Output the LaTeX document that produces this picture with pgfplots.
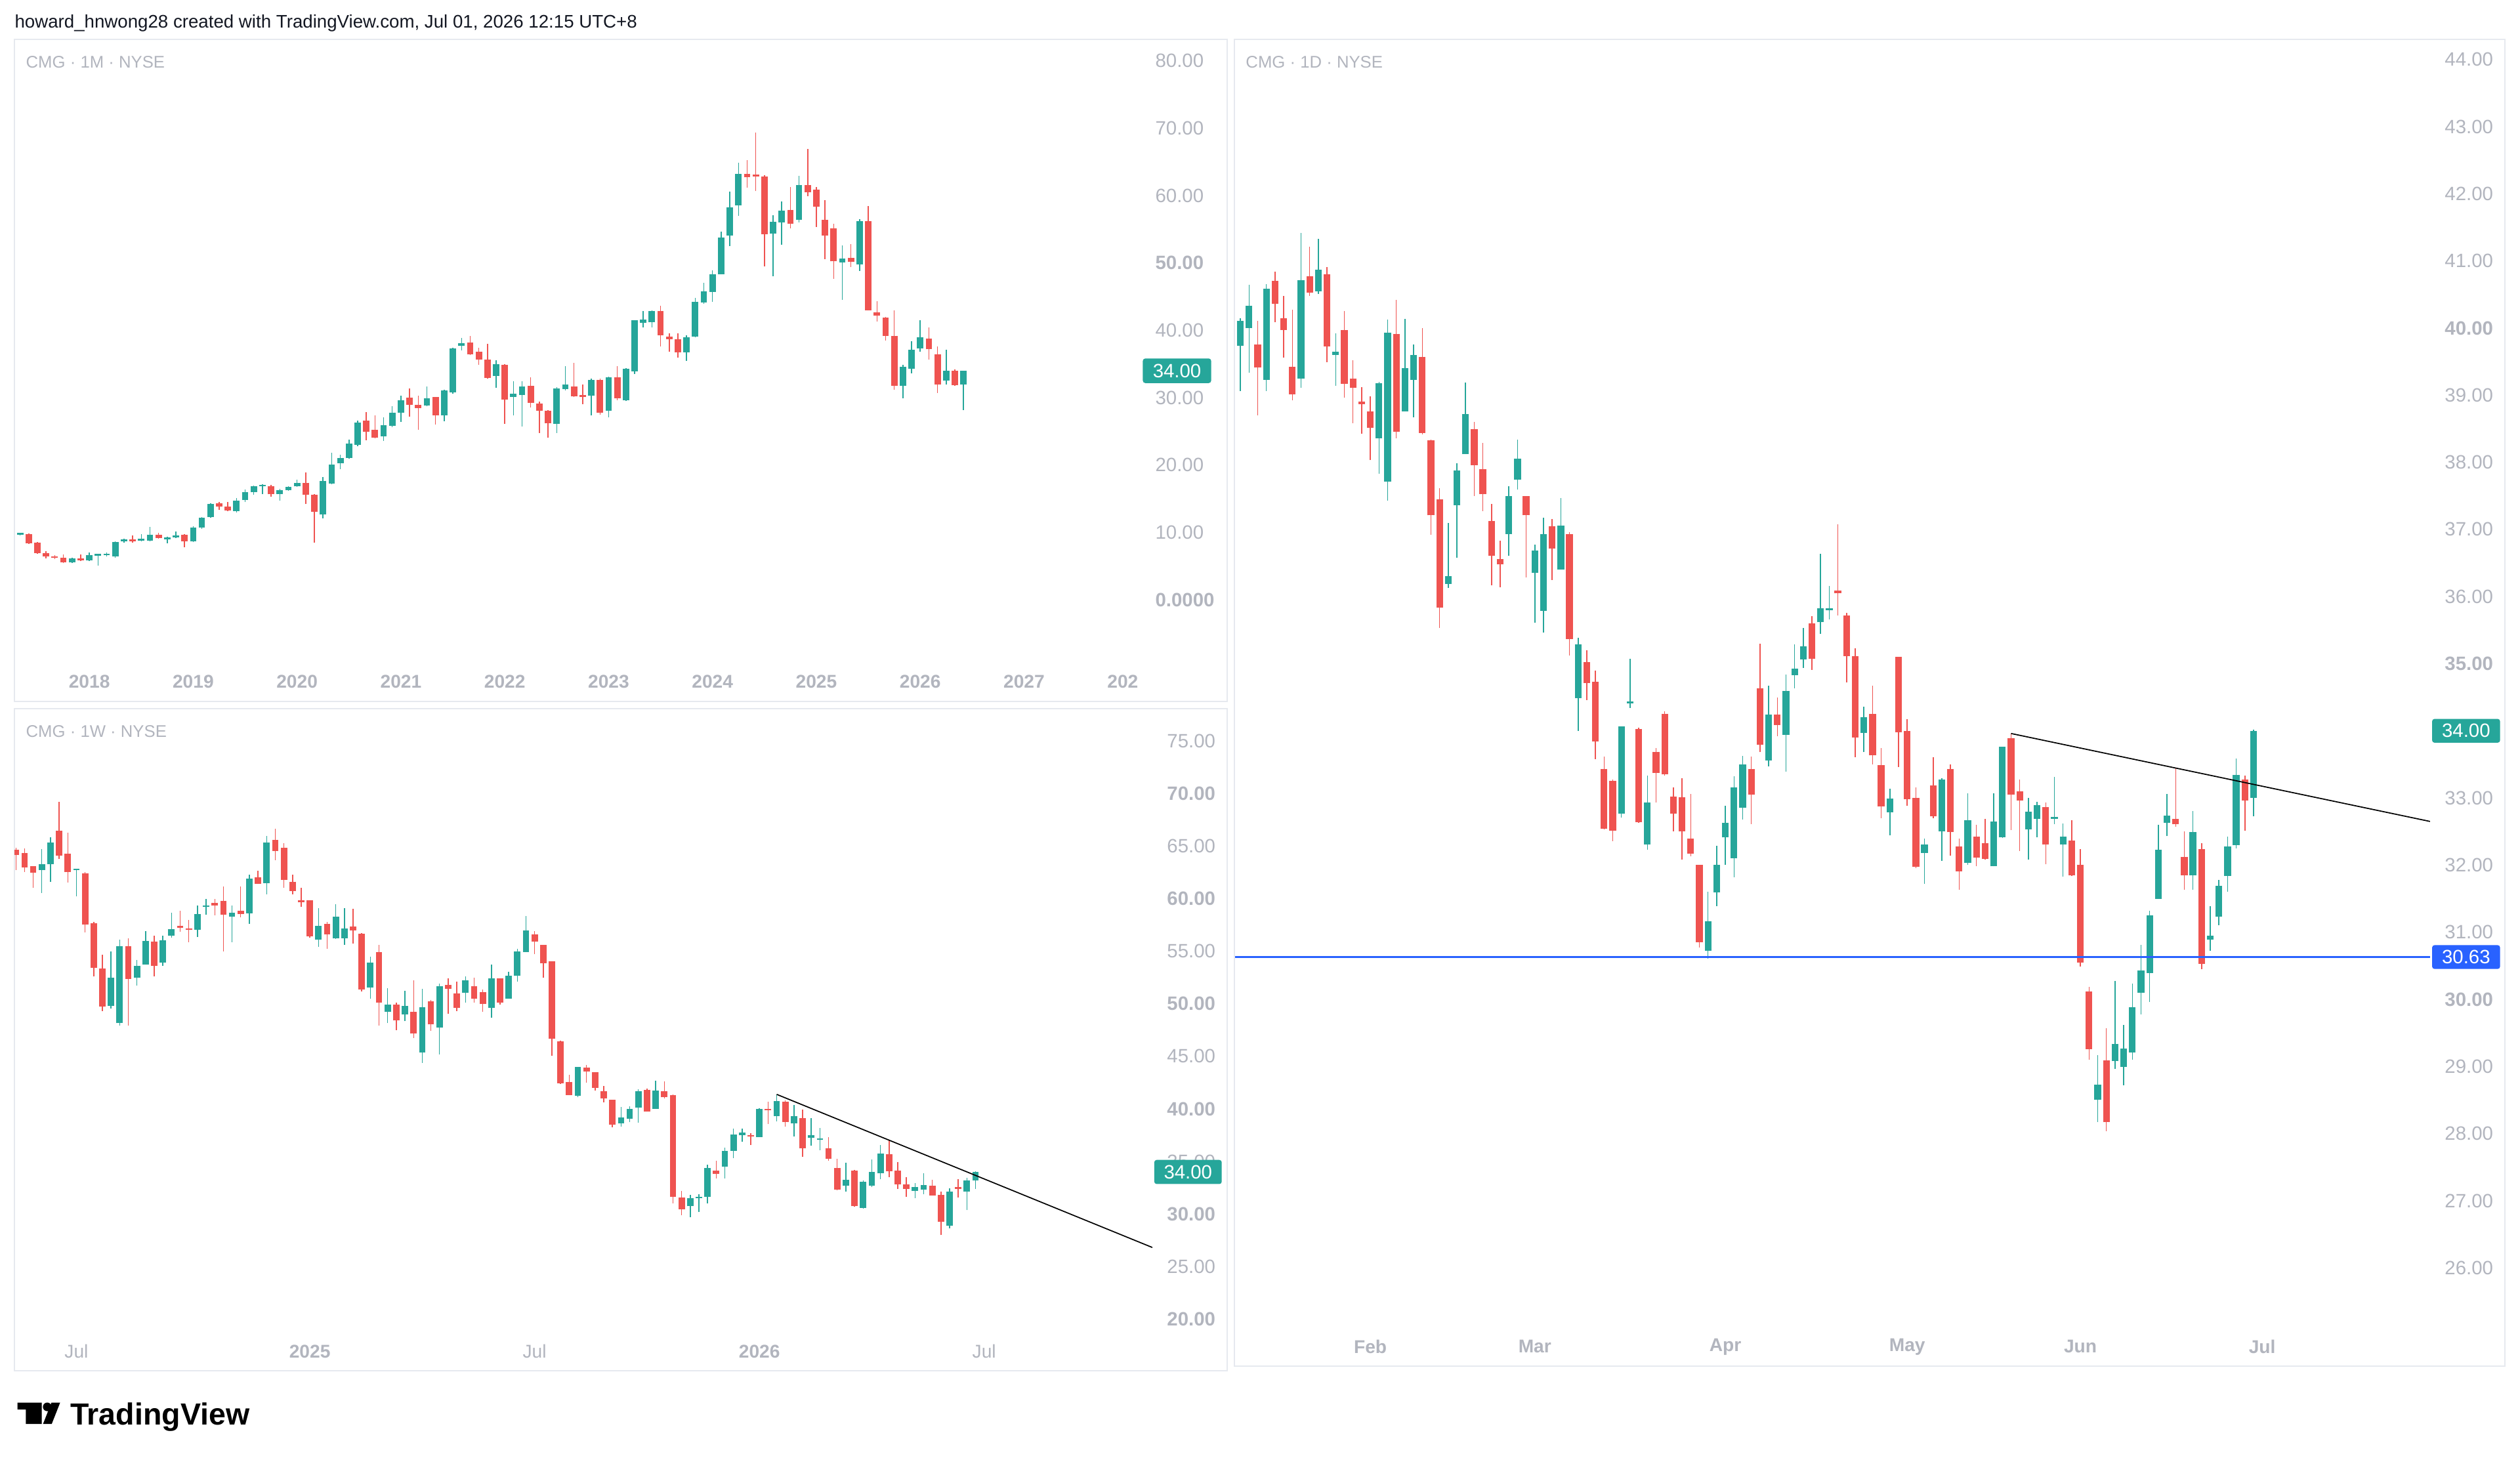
\documentclass[border=0pt]{standalone}
\usepackage{fontspec}
\setmainfont{Liberation Sans}
\usepackage{pgfplots}
\pgfplotsset{compat=1.18}
\usepackage{pgfplotstable}

\definecolor{tvgreen}{HTML}{26A69A}
\definecolor{tvred}{HTML}{EF5350}
\definecolor{tvgray}{HTML}{B2B5BE}
\definecolor{tvblue}{HTML}{2962FF}
\definecolor{tvborder}{HTML}{E6E9EF}
\definecolor{tvtext}{HTML}{131722}

\pgfplotstableread{
i o h l c
1 9.7 10.0 9.6 9.8
2 9.77 9.86 8.33 8.37
3 8.47 8.56 6.88 6.98
4 6.98 7.2 6.14 6.42
5 6.47 6.65 6.05 6.23
6 6.23 6.74 5.44 5.53
7 5.53 6.23 5.44 6.14
8 6.1 6.74 5.8 5.9
9 5.9 7.07 5.8 6.6
10 6.55 6.65 5.1 6.6
11 6.6 7.0 6.4 6.7
12 6.47 8.7 6.3 8.6
13 8.7 9.07 8.47 8.8
14 8.8 9.6 8.47 8.7
15 8.8 9.77 8.65 8.93
16 8.8 10.8 8.7 9.63
17 9.63 10.0 9.07 9.16
18 9.0 9.4 8.4 9.3
19 9.3 10.1 9.16 9.6
20 9.7 9.77 7.8 8.7
21 8.65 10.93 8.56 10.7
22 10.7 12.3 10.5 12.23
23 12.28 14.3 12.2 14.28
24 14.33 14.5 13.35 13.86
25 13.86 14.56 13.2 13.3
26 13.2 15.07 12.93 14.7
27 14.84 16.37 14.5 15.95
28 15.95 17.0 15.6 16.84
29 16.84 17.2 15.7 16.93
30 16.9 17.1 15.35 15.7
31 15.7 16.5 14.74 16.33
32 16.33 16.84 16.2 16.74
33 16.84 17.86 16.74 17.4
34 17.4 18.9 14.23 15.6
35 15.6 15.7 8.47 13.1
36 12.65 18.2 12.1 17.6
37 17.3 21.86 17.2 20.1
38 20.28 21.5 19.44 21.07
39 21.1 23.8 21.0 23.16
40 23.0 26.6 22.8 26.28
41 26.56 27.9 23.7 24.98
42 25.2 27.4 23.95 24.1
43 24.28 27.07 23.6 25.9
44 25.8 28.74 25.67 27.8
45 27.77 30.3 26.4 29.67
46 30.0 31.4 27.2 28.98
47 28.98 30.3 25.26 28.47
48 28.84 31.7 28.7 29.9
49 30.1 30.1 26.0 27.4
50 27.4 31.16 26.5 31.07
51 30.84 37.44 30.6 37.35
52 37.67 38.84 37.0 38.1
53 38.2 39.2 36.3 36.4
54 36.8 37.44 34.93 35.7
55 35.7 38.0 32.84 32.93
56 33.26 35.6 31.5 35.0
57 34.88 34.98 26.14 29.77
58 30.14 32.4 27.35 30.56
59 30.42 32.4 25.7 31.7
60 31.77 33.0 28.6 29.2
61 29.16 29.4 24.74 28.1
62 28.1 28.2 24.05 26.2
63 26.14 31.6 24.8 31.4
64 31.26 34.65 31.07 32.0
65 31.7 35.2 30.1 30.2
66 30.4 31.95 29.07 30.1
67 30.33 32.8 27.35 32.65
68 32.65 32.8 27.53 27.77
69 28.1 33.1 27.07 33.0
70 33.0 34.65 29.67 29.9
71 29.63 34.42 29.5 34.28
72 33.95 41.5 33.5 41.5
73 41.16 42.9 40.47 41.63
74 41.26 43.0 40.47 42.9
75 42.9 43.6 37.6 39.3
76 39.07 39.6 36.84 38.7
77 38.7 39.6 36.0 36.74
78 36.74 39.26 35.44 38.98
79 39.07 44.84 38.93 44.2
80 44.1 47.07 43.95 45.8
81 45.67 48.93 44.2 48.28
82 48.37 54.65 48.28 53.8
83 54.1 60.6 52.47 58.23
84 58.5 64.9 57.0 63.26
85 63.2 65.3 61.2 62.7
86 62.93 69.4 60.65 62.84
87 62.8 63.0 49.5 54.3
88 54.33 57.07 48.05 56.14
89 56.05 59.16 52.74 57.77
90 57.86 61.3 55.1 55.86
91 56.37 62.9 56.05 61.6
92 61.6 66.9 59.9 60.47
93 60.84 61.26 55.35 58.37
94 56.42 59.3 50.6 54.1
95 55.1 55.8 47.67 50.23
96 50.1 52.65 44.56 50.65
97 50.8 52.8 49.44 50.14
98 49.77 56.5 48.84 56.23
99 56.23 58.47 42.93 42.98
100 42.7 44.33 41.3 42.23
101 41.86 41.95 38.47 39.2
102 39.2 42.98 31.16 31.77
103 31.72 34.9 29.9 34.56
104 34.33 38.37 33.6 37.1
105 37.3 41.5 36.84 38.93
106 38.8 40.47 35.67 37.2
107 36.42 37.6 30.7 32.0
108 32.5 37.1 32.0 34.05
109 34.05 34.23 31.77 31.86
110 32.0 34.05 28.14 34.0
}\monthly

\pgfplotstableread{
i o h l c
1 64.64 64.8 62.7 64.16
2 64.33 64.78 62.55 62.97
3 63.1 63.1 61.0 62.49
4 62.72 64.72 60.54 63.3
5 63.27 65.83 61.57 65.36
6 66.45 69.23 63.75 64.11
7 64.25 66.25 61.52 62.55
8 62.7 62.85 60.2 62.73
9 62.41 62.55 56.78 57.56
10 57.67 57.8 52.58 53.44
11 53.36 54.64 49.32 49.73
12 49.82 54.97 49.54 52.46
13 48.15 56.08 47.92 55.47
14 55.5 56.22 47.95 52.38
15 52.46 54.19 51.71 53.61
16 53.75 56.89 53.75 56.0
17 55.92 56.5 52.6 53.58
18 53.94 56.5 53.63 56.06
19 56.5 58.68 56.31 57.12
20 57.37 58.87 56.84 57.23
21 57.1 57.98 55.86 57.03
22 57.03 59.34 56.36 58.54
23 59.2 59.99 58.45 59.3
24 59.62 59.99 58.4 59.34
25 59.76 61.15 54.97 58.48
26 58.31 59.34 55.86 58.68
27 58.87 61.18 58.23 58.54
28 58.59 62.3 57.62 61.91
29 62.02 62.63 61.38 61.43
30 61.49 65.97 60.4 65.33
31 65.56 66.61 63.66 64.53
32 64.8 65.28 61.04 61.8
33 61.57 62.3 60.43 60.71
34 59.87 61.04 59.2 59.65
35 59.82 59.87 56.3 56.4
36 56.08 59.07 55.39 57.42
37 57.62 57.76 55.25 56.59
38 56.2 59.48 56.17 58.26
39 56.25 59.07 55.61 57.14
40 57.34 59.01 55.75 56.98
41 56.64 56.73 51.16 51.35
42 51.55 54.47 50.46 53.91
43 54.92 55.58 47.95 50.1
44 49.23 51.46 48.15 49.93
45 49.93 50.1 47.48 48.4
46 48.98 51.21 48.34 49.82
47 49.23 52.24 46.75 47.17
48 45.36 51.4 44.38 49.68
49 50.21 50.35 47.4 48.06
50 47.73 51.9 45.17 51.68
51 51.82 52.41 49.07 51.4
52 50.96 52.1 49.32 49.62
53 51.07 52.57 50.1 52.21
54 51.68 52.46 50.1 50.51
55 51.1 51.35 49.26 49.96
56 49.59 53.72 48.65 52.41
57 52.41 52.41 49.9 50.1
58 50.51 53.02 50.51 52.66
59 52.66 55.25 52.13 54.97
60 54.92 58.37 54.92 56.98
61 56.59 56.92 54.7 55.89
62 55.61 55.61 52.46 53.83
63 54.05 54.05 45.08 46.67
64 46.42 46.47 42.38 42.44
65 42.57 43.27 41.3 41.32
66 41.24 43.97 41.1 43.97
67 43.91 44.16 42.49 43.55
68 43.5 43.5 41.74 42.02
69 41.68 42.16 40.63 40.99
70 40.9 40.9 38.26 38.48
71 38.62 40.21 38.34 39.18
72 39.09 40.26 38.73 39.98
73 40.15 41.88 38.68 41.66
74 41.8 41.96 39.74 39.74
75 40.01 42.71 40.01 41.74
76 41.68 42.63 40.99 41.1
77 41.32 41.38 31.02 31.63
78 31.57 32.19 29.9 30.46
79 30.74 31.85 29.68 31.49
80 31.49 31.9 30.18 31.57
81 31.63 34.69 31.02 34.41
82 34.13 35.05 33.38 33.8
83 34.5 36.31 33.38 36.03
84 36.03 38.12 35.33 37.56
85 37.48 38.12 36.87 37.76
86 37.53 37.7 36.59 37.37
87 37.34 40.04 37.34 39.98
88 39.93 40.71 38.59 39.87
89 39.32 41.38 38.82 40.76
90 40.71 40.82 38.32 38.76
91 38.62 40.35 37.37 39.32
92 39.15 39.93 35.42 36.23
93 37.28 39.1 36.53 37.48
94 37.06 38.2 36.09 37.14
95 36.26 37.34 35.05 35.25
96 34.41 35.25 32.27 32.35
97 32.69 34.91 32.13 33.24
98 34.16 34.22 30.68 30.74
99 30.6 33.19 30.52 33.05
100 32.69 35.19 32.55 33.99
101 33.86 36.59 33.3 35.75
102 35.7 37.01 33.52 34.08
103 34.16 34.97 32.41 32.83
104 32.83 33.52 31.63 32.41
105 32.19 32.97 31.52 32.55
106 32.33 33.86 31.9 32.77
107 32.69 33.24 31.75 31.77
108 31.85 32.13 28.01 29.26
109 28.87 32.47 28.65 32.13
110 32.52 33.3 31.57 32.41
111 32.13 33.44 30.37 33.19
112 33.19 34.05 32.41 34.0
}\weekly

\pgfplotstableread{
i o h l c
1 39.74 40.15 39.06 40.11
2 40.0 40.64 39.33 40.33
3 39.75 40.11 38.7 39.41
4 39.23 40.65 39.06 40.59
5 40.70 40.84 40.09 40.36
6 40.15 40.48 39.56 39.97
7 39.42 40.27 38.92 39.01
8 39.25 41.42 39.11 40.71
9 40.77 41.21 40.48 40.53
10 40.55 41.33 40.51 40.87
11 40.8 40.91 39.49 39.73
12 39.6 39.92 39.14 39.65
13 39.97 40.25 38.96 39.17
14 39.25 39.52 38.58 39.11
15 38.9 39.12 38.43 38.87
16 38.76 38.98 38.03 38.51
17 38.36 39.2 37.83 39.18
18 37.71 40.13 37.43 39.93
19 39.91 40.42 38.36 38.45
20 38.76 40.14 38.76 39.4
21 39.23 39.75 38.67 39.6
22 39.57 40.0 38.42 38.44
23 38.33 38.34 36.92 37.21
24 37.45 37.61 35.53 35.84
25 36.19 37.1 36.13 36.3
26 37.36 37.99 36.58 37.88
27 38.12 39.19 38.12 38.72
28 38.49 38.6 37.5 37.96
29 37.9 38.29 37.27 37.53
30 37.13 37.38 36.17 36.61
31 36.56 36.83 36.14 36.48
32 36.93 37.64 36.61 37.5
33 37.74 38.34 37.59 38.05
34 37.5 37.5 36.28 37.21
35 36.35 36.77 35.61 36.69
36 35.79 37.17 35.46 36.93
37 37.05 37.15 36.25 36.71
38 36.4 37.47 36.4 37.06
39 36.93 36.96 35.12 35.37
40 34.49 35.39 34.0 35.29
41 35.02 35.2 34.46 34.71
42 34.73 34.9 33.58 33.84
43 33.43 33.62 32.53 32.54
44 33.25 33.27 32.36 32.51
45 32.77 34.07 32.71 34.07
46 34.41 35.07 34.34 34.42
47 34.03 34.05 32.63 32.64
48 32.31 33.33 32.23 32.93
49 33.68 33.74 32.93 33.37
50 34.25 34.29 33.33 33.35
51 33.02 33.16 32.5 32.77
52 33.01 33.29 32.08 32.5
53 32.39 33.06 32.13 32.17
54 32.0 32.0 30.77 30.85
55 30.72 31.6 30.61 31.16
56 31.59 32.29 31.39 32.0
57 32.41 32.88 32.0 32.63
58 32.1 33.32 31.82 33.16
59 32.85 33.63 32.68 33.5
60 33.43 33.62 32.61 33.05
61 34.63 35.3 33.68 33.79
62 33.56 34.67 33.47 34.24
63 34.24 34.5 33.92 34.09
64 33.94 34.84 33.39 34.59
65 34.83 35.29 34.63 34.93
66 35.06 35.53 34.94 35.26
67 35.6 35.71 34.91 35.07
68 35.62 36.64 35.44 35.83
69 35.8 36.16 35.66 35.82
70 36.09 37.08 35.72 36.05
71 35.72 35.76 34.72 35.11
72 35.11 35.23 33.61 33.9
73 33.97 34.36 33.68 34.2
74 34.25 34.67 33.5 33.64
75 33.49 33.74 32.7 32.87
76 32.79 33.14 32.44 32.99
77 35.1 35.1 33.46 33.98
78 34.0 34.17 32.88 32.98
79 33.0 33.16 31.95 31.97
80 32.18 32.39 31.72 32.31
81 33.19 33.61 32.7 32.73
82 32.5 33.29 32.06 33.27
83 33.43 33.5 32.14 32.49
84 32.28 32.39 31.63 31.91
85 32.03 33.07 32.0 32.67
86 32.42 32.6 31.98 32.11
87 32.33 32.69 32.08 32.09
88 31.98 33.07 31.98 32.65
89 32.41 33.76 32.4 33.76
90 33.89 33.96 32.52 33.05
91 33.1 33.27 32.21 32.96
92 32.53 33.0 32.08 32.8
93 32.69 32.94 32.41 32.89
94 32.86 32.93 32.01 32.31
95 32.69 33.31 32.61 32.7
96 32.31 32.62 31.83 32.42
97 32.37 32.67 31.84 31.85
98 32.0 32.24 30.49 30.55
99 30.12 30.19 29.1 29.26
100 28.5 29.17 28.17 28.73
101 29.09 29.57 28.04 28.17
102 29.08 30.27 28.96 29.34
103 28.99 29.62 28.72 29.27
104 29.21 30.23 29.1 29.88
105 30.1 30.81 29.78 30.43
106 30.39 31.32 29.96 31.25
107 31.5 32.6 31.5 32.23
108 32.63 33.06 32.43 32.74
109 32.69 33.45 32.57 32.61
110 32.12 32.5 31.63 31.85
111 31.85 32.81 31.63 32.49
112 32.24 32.33 30.45 30.53
113 30.89 31.39 30.72 30.95
114 31.23 31.78 31.1 31.69
115 31.84 32.42 31.6 32.28
116 32.3 33.59 32.25 33.34
117 33.27 33.33 32.51 32.96
118 33.0 34.02 32.73 34.0
}\daily

\pgfplotsset{
  tvaxis/.style={
    scale only axis, anchor=south west, clip=true,
    axis line style={draw=none}, major tick length=0pt, minor tick num=0,
    tick style={draw=none}, yticklabel pos=right,
    ticklabel style={text=tvgray},
    xticklabel style={font=\fontsize{11.5}{12}\selectfont, anchor=center},
    yticklabel style={font=\fontsize{12}{12}\selectfont, anchor=west, inner sep=0pt},
  },
}

% #1 table, #2 body width, #3 minimum body height
\newcommand{\candles}[3]{%
  \addplot[draw=none, mark=none, forget plot,
    restrict expr to domain={\thisrow{c}-\thisrow{o}}{0:10000},
    error bars/.cd, y dir=plus, y explicit, error mark=none,
    error bar style={draw=tvgreen, line width=0.6pt}]
    table[x=i, y=l, y error expr={\thisrow{h}-\thisrow{l}}] {#1};
  \addplot[draw=none, mark=none, forget plot,
    restrict expr to domain={\thisrow{c}-\thisrow{o}}{-10000:-0.000001},
    error bars/.cd, y dir=plus, y explicit, error mark=none,
    error bar style={draw=tvred, line width=0.6pt}]
    table[x=i, y=l, y error expr={\thisrow{h}-\thisrow{l}}] {#1};
  \addplot[draw=none, mark=none, forget plot,
    restrict expr to domain={\thisrow{c}-\thisrow{o}}{0:10000},
    error bars/.cd, y dir=plus, y explicit, error mark=none,
    error bar style={draw=tvgreen, line width=#2}]
    table[x=i, y expr={min(\thisrow{o},\thisrow{c})},
      y error expr={max(abs(\thisrow{c}-\thisrow{o}),#3)}] {#1};
  \addplot[draw=none, mark=none, forget plot,
    restrict expr to domain={\thisrow{c}-\thisrow{o}}{-10000:-0.000001},
    error bars/.cd, y dir=plus, y explicit, error mark=none,
    error bar style={draw=tvred, line width=#2}]
    table[x=i, y expr={min(\thisrow{o},\thisrow{c})},
      y error expr={max(abs(\thisrow{c}-\thisrow{o}),#3)}] {#1};
}

\begin{document}
\begin{tikzpicture}[x=1pt,y=1pt]
\useasboundingbox (0,0) rectangle (1568,907);
\fill[white] (0,0) rectangle (1568,907);

% panel borders
\draw[tvborder, line width=0.8pt] (9,882.5) rectangle (763.6,470.5);
\draw[tvborder, line width=0.8pt] (9,466) rectangle (763.6,54);
\draw[tvborder, line width=0.8pt] (768,882.5) rectangle (1558.5,57);

% header
\node[anchor=west, inner sep=0pt, text=tvtext, font=\fontsize{11.3}{11.3}\selectfont]
  at (9,892.7) {howard\_hnwong28 created with TradingView.com, Jul 01, 2026 12:15 UTC+8};

% ---------- Monthly ----------
\begin{axis}[tvaxis, at={(9pt,496pt)}, width=701pt, height=386.5pt,
  xmin=0.348, xmax=130.52, ymin=-8.99, ymax=83.19,
  xtick={9,21,33,45,57,69,81,93,105,117,129},
  xticklabels={2018,2019,2020,2021,2022,2023,2024,2025,2026,2027,202\phantom{8}},
  xticklabel style={font=\fontsize{11.5}{12}\selectfont\bfseries, yshift=-13pt},
  ytick={0,10,20,30,40,50,60,70,80},
  yticklabels={\textbf{0.0000},10.00,20.00,30.00,40.00,\textbf{50.00},60.00,70.00,80.00},
  yticklabel style={xshift=8.7pt}]
\candles{\monthly}{4pt}{0.24}
\coordinate (mbox) at (axis cs:130.52,34);
\end{axis}
\node[fill=tvgreen, text=white, rounded corners=1.5pt, anchor=west, inner sep=0pt,
  minimum width=42.5pt, minimum height=15.3pt, font=\fontsize{12}{12}\selectfont]
  at ([xshift=0.9pt]mbox) {34.00};
\node[anchor=west, inner sep=0pt, text=tvgray, font=\fontsize{10.5}{11}\selectfont]
  at (16,868.5) {CMG · 1M · NYSE};

% ---------- Weekly ----------
\begin{axis}[tvaxis, at={(9pt,79pt)}, width=708pt, height=387pt,
  xmin=0.833, xmax=132.45, ymin=18.92, ymax=78.06,
  xtick={8,35,61,87,113},
  xticklabels={Jul,\textbf{2025},Jul,\textbf{2026},Jul},
  xticklabel style={yshift=-13pt},
  ytick={20,25,30,35,40,45,50,55,60,65,70,75},
  yticklabels={\textbf{20.00},25.00,\textbf{30.00},35.00,\textbf{40.00},45.00,\textbf{50.00},55.00,\textbf{60.00},65.00,\textbf{70.00},75.00},
  yticklabel style={xshift=9pt}]
\candles{\weekly}{4pt}{0.15}
\addplot[black, line width=0.7pt] coordinates {(89,41.38) (132.45,26.82)};
\coordinate (wbox) at (axis cs:132.45,34);
\end{axis}
\node[fill=tvgreen, text=white, rounded corners=1.5pt, anchor=west, inner sep=0pt,
  minimum width=42pt, minimum height=15pt, font=\fontsize{12}{12}\selectfont]
  at ([xshift=1pt]wbox) {34.00};
\node[anchor=west, inner sep=0pt, text=tvgray, font=\fontsize{10.5}{11}\selectfont]
  at (16,452) {CMG · 1W · NYSE};

% ---------- Daily ----------
\begin{axis}[tvaxis, at={(768.5pt,85pt)}, width=743.5pt, height=797.5pt,
  xmin=0.387, xmax=138.38, ymin=25.21, ymax=44.30,
  xtick={16,35,57,78,98,119},
  xticklabels={Feb,Mar,Apr,May,Jun,Jul},
  xticklabel style={font=\fontsize{11.5}{12}\selectfont\bfseries, yshift=-16pt},
  ytick={26,27,28,29,30,31,32,33,34,35,36,37,38,39,40,41,42,43,44},
  yticklabels={26.00,27.00,28.00,29.00,\textbf{30.00},31.00,32.00,33.00,34.00,\textbf{35.00},36.00,37.00,38.00,39.00,\textbf{40.00},41.00,42.00,43.00,44.00},
  yticklabel style={xshift=9pt}]
\candles{\daily}{4.2pt}{0.025}
\addplot[tvblue, line width=1.2pt] coordinates {(0.387,30.63) (138.38,30.63)};
\addplot[black, line width=0.7pt] coordinates {(90,33.96) (138.38,32.65)};
\coordinate (dbox) at (axis cs:138.38,34);
\coordinate (bbox) at (axis cs:138.38,30.63);
\end{axis}
\node[fill=tvgreen, text=white, rounded corners=1.5pt, anchor=west, inner sep=0pt,
  minimum width=42.3pt, minimum height=14.8pt, font=\fontsize{12}{12}\selectfont]
  at ([xshift=1.1pt]dbox) {34.00};
\node[fill=tvblue, text=white, rounded corners=1.5pt, anchor=west, inner sep=0pt,
  minimum width=42.3pt, minimum height=14.8pt, font=\fontsize{12}{12}\selectfont]
  at ([xshift=1.1pt]bbox) {30.63};
\node[anchor=west, inner sep=0pt, text=tvgray, font=\fontsize{10.5}{11}\selectfont]
  at (775,868.5) {CMG · 1D · NYSE};

% ---------- TradingView logo ----------
\fill[black] (10.9,34.1) -- (26.0,34.1) -- (26.0,20.9) -- (16.1,20.9) -- (16.1,29.8) -- (10.9,29.8) -- cycle;
\fill[black] (29.4,31.5) circle (2.7);
\fill[black] (32.0,34.1) -- (37.4,34.1) -- (32.2,20.9) -- (26.8,20.9) -- cycle;
\node[anchor=base west, inner sep=0pt, font=\fontsize{19}{19}\selectfont\bfseries]
  at (43.5,20.3) {TradingView};
\end{tikzpicture}
\end{document}
